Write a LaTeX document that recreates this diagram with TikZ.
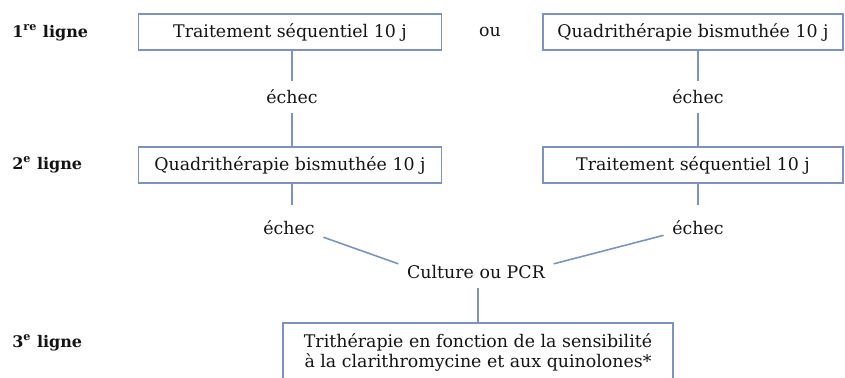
\documentclass[tikz,border=0pt]{standalone}
\usepackage{fontspec}
\setmainfont{DejaVu Serif}
\usepackage{tikz}
\usetikzlibrary{calc}
\definecolor{boxblue}{RGB}{122,147,196}
\definecolor{inkgray}{RGB}{20,20,20}

\begin{document}
\begin{tikzpicture}[x=0.02cm,y=-0.02cm,text=inkgray,
    font=\fontsize{9.9}{10.9}\selectfont]
\tikzstyle{box}=[draw=boxblue,line width=0.9pt,minimum height=0.73cm,inner sep=0pt,align=center]
\tikzstyle{fail}=[inner sep=4.8pt]
\tikzstyle{rowlab}=[anchor=west,inner sep=0pt,font=\fontsize{9.1}{10.9}\selectfont\bfseries]
\tikzstyle{link}=[draw=boxblue,line width=0.9pt]
\useasboundingbox (0,0) rectangle (845,378);
% row labels
\foreach \n/\s/\y in {1/re/33,2/e/165,3/e/343}
	\node[rowlab] (l\n) at (12,\y) {\n\textsuperscript{\s} ligne};
% boxes
\node[box,minimum width=6.06cm] (t1) at (290,32) {Traitement séquentiel 10 j};
\node (ou) at (490,32) {ou};
\node[box,minimum width=6.0cm] (q1) at (693,32) {Quadrithérapie bismuthée 10 j};
\node[box,minimum width=6.06cm] (q2) at (290,165) {Quadrithérapie bismuthée 10 j};
\node[box,minimum width=6.0cm] (t2) at (693,165) {Traitement séquentiel 10 j};
\node[box,minimum width=7.8cm,minimum height=1.18cm] (tri) at (478,352.5)
	{Trithérapie en fonction de la sensibilité\\à la clarithromycine et aux quinolones*};
% failures
\node[fail] (e1) at (292,97) {échec};
\node[fail] (e2) at (698,97) {échec};
\node[fail] (e3) at (289,228) {échec};
\node[fail] (e4) at (698,228) {échec};
\node[fail] (pcr) at (476,272) {Culture ou PCR};
% connectors
\draw[link] (t1.south -| e1) -- (e1.north);
\draw[link] (e1.south) -- (e1.south |- q2.north);
\draw[link] (q1.south -| e2) -- (e2.north);
\draw[link] (e2.south) -- (e2.south |- t2.north);
\draw[link,shorten >=0.15cm] (q2.south -| e1) -- (e1 |- e3.north);
\draw[link,shorten >=0.15cm] (t2.south -| e4) -- (e4.north);
\draw[link] (e3.-15) -- (pcr.174);
\draw[link] (pcr.6) -- (e4.192);
\draw[link] (pcr.south -| tri.north) -- (tri.north);
\end{tikzpicture}
\end{document}
